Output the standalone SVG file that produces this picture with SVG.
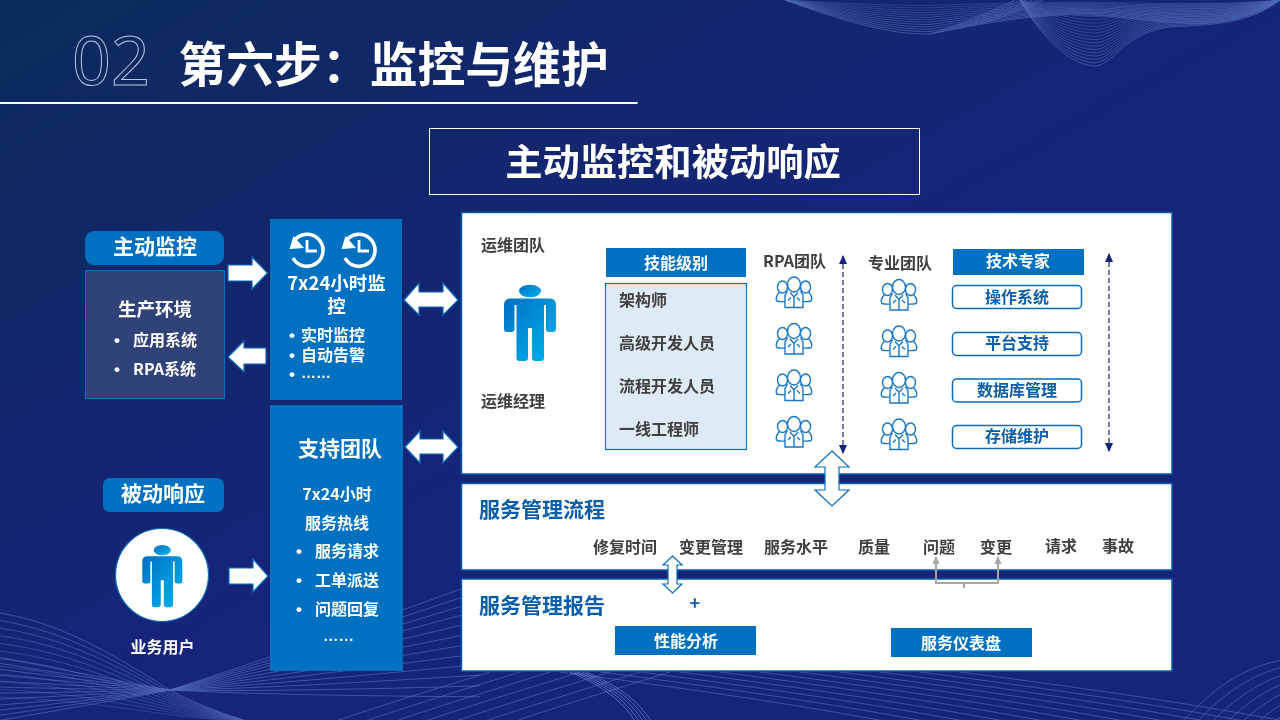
<svg xmlns="http://www.w3.org/2000/svg" width="1280" height="720" viewBox="0 0 1280 720">
<style>
text{font-family:"Noto Sans CJK SC","Noto Sans",sans-serif;font-weight:700}
.w{fill:#fff}.g{fill:#404040}.b{fill:#0a5da8}
.f16{font-size:16px}.f21{font-size:21px}.m{text-anchor:middle}
text.bul{font-family:"Liberation Sans",sans-serif;font-size:17px;fill:#fff;text-anchor:middle}
.box{fill:#0070c0}
.panel{fill:#fff;stroke:#0a5da8;stroke-width:1.5}
.arrow{fill:#fff;stroke:#0a6cb8;stroke-width:1.2}
.tag{fill:#fff;stroke:#0a6cb8;stroke-width:1.5}
.wave{fill:none;stroke:#7d9fe2;stroke-width:.7;opacity:.55}
.wave2{fill:none;stroke:#8aaae8;stroke-width:.7;opacity:.75}
.dash{fill:none;stroke:#16237e;stroke-width:1.2;stroke-dasharray:5 3}
.ico{fill:none;stroke:#1a78c6;stroke-width:1.4}
</style>
<defs>
<linearGradient id="bg" x1="0" y1="0" x2="0.55" y2="0.55"><stop offset="0" stop-color="#0b2b5b"/><stop offset=".6" stop-color="#13266f"/><stop offset="1" stop-color="#16247c"/></linearGradient>
<linearGradient id="man" x1="0" y1="0" x2="1" y2="1"><stop offset="0" stop-color="#0070c0"/><stop offset="1" stop-color="#00b4f2"/></linearGradient>
<marker id="ah" viewBox="0 0 8 8" refX="7" refY="4" markerWidth="8" markerHeight="8" orient="auto-start-reverse"><path d="M0,0.5L8,4L0,7.5Z" fill="#16237e"/></marker>
<marker id="gh" viewBox="0 0 8 8" refX="7" refY="4" markerWidth="8" markerHeight="8" markerUnits="userSpaceOnUse" orient="auto"><path d="M0,0.5L8,4L0,7.5Z" fill="#a6a6a6"/></marker>
<g id="person"><ellipse cx="530" cy="291" rx="11" ry="6.3" fill="url(#man)"/><path d="M510,298.5H550Q556,299 556,305V329Q556,332 553,332H549Q546,332 546,329V305H544V358Q544,361 541,361H535Q532,361 532,358V328H528V358Q528,361 525,361H519.500Q516.500,361 516.500,358V305H514.500V329Q514.500,332 511.500,332H507Q504,332 504,329V305Q504,299 510,298.500Z" fill="url(#man)"/></g>
<g id="team" class="ico"><ellipse cx="18" cy="8" rx="6.500" ry="7.500"/><ellipse cx="6.500" cy="10.500" rx="5" ry="6"/><ellipse cx="29.500" cy="10.500" rx="5" ry="6"/><path d="M3.500,15.500C0,19 -.5,23 1,24.500Q4,25.500 9,25M32.500,15.500C36,19 36.500,23 35,24.500Q32,25.500 27,25M11.500,14.500L9,19V31H27V19L24.500,14.500M14,16L18,20.500L22,16M18,20.500V31M15,21L12,24M21,21L24,24"/></g>
<g id="clock"><path d="M294,241A16,16 0 1 1 293,258" fill="none" stroke="#fff" stroke-width="3.600"/><path d="M289.500,249L293.500,236L304,248Z" fill="#fff"/><path d="M307,240V251H317" fill="none" stroke="#fff" stroke-width="2.800"/></g>
<path id="wA" d="M785,0C840,20 890,35 930,34C990,22 1040,13 1090,15C1130,17 1170,25 1210,23C1240,20 1260,10 1280,0"/>
<path id="wA2" d="M930,34C960,25 990,12 1015,0"/>
<path id="wB" d="M1020,0C1040,35 1070,66 1095,66C1112,66 1125,32 1170,27C1210,25 1250,24 1280,0"/>
<path id="wC" d="M0,613C70,625 120,660 170,690C200,706 230,716 250,722"/>
<path id="wD" d="M0,705C60,700 120,695 170,690C250,672 370,640 480,610"/>
<path id="wE" d="M460,730C530,705 590,688 640,672"/>
<path id="wF" d="M640,672C780,690 920,710 1060,740"/>
<path id="wG" d="M570,672C600,685 625,700 640,730"/>
<path id="wH" d="M1180,725C1210,690 1245,665 1285,660"/>
</defs>
<rect id="background" width="1280" height="720" fill="url(#bg)"/>
<g id="waves">
<g class="wave"><use href="#wA"/><use href="#wA" transform="scale(1,.93)"/><use href="#wA" transform="scale(1,.86)"/><use href="#wA" transform="scale(1,.79)"/><use href="#wA" transform="scale(1,.72)"/><use href="#wA" transform="scale(1,.65)"/><use href="#wA" transform="scale(1,.58)"/><use href="#wA" transform="scale(1,.51)"/><use href="#wA" transform="scale(1,.44)"/><use href="#wA" transform="scale(1,.37)"/><use href="#wA" transform="scale(1,.3)"/><use href="#wA" transform="scale(1,.23)"/><use href="#wA" transform="scale(1,.16)"/>
<use href="#wA2"/><use href="#wA2" transform="translate(10,-2)"/><use href="#wA2" transform="translate(20,-4)"/><use href="#wA2" transform="translate(30,-6)"/><use href="#wA2" transform="translate(40,-8)"/><use href="#wA2" transform="translate(50,-10)"/>
<use href="#wB"/><use href="#wB" transform="scale(1,.95)"/><use href="#wB" transform="scale(1,.9)"/><use href="#wB" transform="scale(1,.85)"/><use href="#wB" transform="scale(1,.8)"/><use href="#wB" transform="scale(1,.75)"/><use href="#wB" transform="scale(1,.7)"/><use href="#wB" transform="scale(1,.65)"/><use href="#wB" transform="scale(1,.6)"/><use href="#wB" transform="scale(1,.55)"/><use href="#wB" transform="scale(1,.5)"/><use href="#wB" transform="scale(1,.45)"/><use href="#wB" transform="scale(1,.4)"/><use href="#wB" transform="scale(1,.35)"/><use href="#wB" transform="scale(1,.3)"/><use href="#wB" transform="scale(1,.25)"/><use href="#wB" transform="scale(1,.2)"/><use href="#wB" transform="scale(1,.15)"/>
<use href="#wC"/><use href="#wC" transform="matrix(1 0 0 .93 0 50.500)"/><use href="#wC" transform="matrix(1 0 0 .86 0 101)"/><use href="#wC" transform="matrix(1 0 0 .79 0 151.600)"/><use href="#wC" transform="matrix(1 0 0 .72 0 202.200)"/><use href="#wC" transform="matrix(1 0 0 .65 0 252.700)"/><use href="#wC" transform="matrix(1 0 0 .58 0 303.200)"/><use href="#wC" transform="matrix(1 0 0 .51 0 353.800)"/><use href="#wC" transform="matrix(1 0 0 .44 0 404.300)"/><use href="#wC" transform="matrix(1 0 0 .37 0 454.900)"/><use href="#wC" transform="matrix(1 0 0 .3 0 505.400)"/><use href="#wC" transform="matrix(1 0 0 .23 0 556)"/>
<use href="#wD"/><use href="#wD" transform="matrix(1 .035 0 1 0 -5.950)"/><use href="#wD" transform="matrix(1 .07 0 1 0 -11.900)"/><use href="#wD" transform="matrix(1 .105 0 1 0 -17.850)"/><use href="#wD" transform="matrix(1 .14 0 1 0 -23.800)"/><use href="#wD" transform="matrix(1 .175 0 1 0 -29.750)"/><use href="#wD" transform="matrix(1 .21 0 1 0 -35.700)"/><use href="#wD" transform="matrix(1 .245 0 1 0 -41.650)"/><use href="#wD" transform="matrix(1 .28 0 1 0 -47.600)"/>
<use href="#wD" transform="matrix(1 -.03 0 1 0 5.100)"/><use href="#wD" transform="matrix(1 -.06 0 1 0 10.200)"/><use href="#wD" transform="matrix(1 -.09 0 1 0 15.300)"/>
<use href="#wE"/><use href="#wE" transform="translate(30,0)"/><use href="#wE" transform="translate(-30,0)"/><use href="#wE" transform="translate(-60,0)"/><use href="#wE" transform="translate(-90,0)"/><use href="#wE" transform="translate(-120,0)"/><use href="#wE" transform="translate(-150,0)"/>
<use href="#wF"/><use href="#wF" transform="translate(40,0)"/><use href="#wF" transform="translate(80,0)"/><use href="#wF" transform="translate(120,0)"/><use href="#wF" transform="translate(160,0)"/><use href="#wF" transform="translate(200,0)"/><use href="#wF" transform="translate(240,0)"/><use href="#wF" transform="translate(280,0)"/><use href="#wF" transform="translate(320,0)"/><use href="#wF" transform="translate(-40,0)"/><use href="#wF" transform="translate(-80,0)"/>
<use href="#wH"/><use href="#wH" transform="translate(10,5)"/><use href="#wH" transform="translate(20,10)"/><use href="#wH" transform="translate(30,15)"/><use href="#wH" transform="translate(40,20)"/><use href="#wH" transform="translate(50,25)"/><use href="#wH" transform="translate(60,30)"/><use href="#wH" transform="translate(70,35)"/></g>
<g class="wave2"><use href="#wG"/><use href="#wG" transform="translate(4,0)"/><use href="#wG" transform="translate(8,0)"/><use href="#wG" transform="translate(12,0)"/><use href="#wG" transform="translate(16,0)"/></g>
</g>
<g id="header">
<text x="72" y="85" font-size="68" style="font-family:'Noto Sans',sans-serif;font-weight:400;fill:none;stroke:#b4c8e2;stroke-width:1">02</text>
<text class="w" x="178.500" y="81.500" font-size="47.800">第六步：监控与维护</text>
<rect x="0" y="102" width="637.500" height="2" fill="#fff"/>
</g>
<g id="subtitle"><rect x="429.500" y="128.500" width="490" height="66" fill="none" stroke="#fff"/><text class="w m" x="673" y="175.500" font-size="37.300">主动监控和被动响应</text></g>
<g id="node-active"><rect class="box" x="85" y="231" width="139" height="34" rx="9"/><text class="w m f21" x="155" y="254">主动监控</text></g>
<g id="node-env"><rect x="85.500" y="270.500" width="139" height="128" fill="#2f4379" stroke="#0070c0"/><text class="w m" font-size="18.500" x="155" y="316">生产环境</text><text class="bul" x="117" y="346">•</text><text class="w f16" x="133" y="346">应用系统</text><text class="bul" x="117" y="375">•</text><text class="w f16" x="133" y="375">RPA系统</text></g>
<g id="node-monitor"><rect class="box" x="270" y="219" width="132" height="181"/><use href="#clock"/><use href="#clock" x="52"/><text class="w m" font-size="18.500" x="336.500" y="290">7x24小时监</text><text class="w m" font-size="18.500" x="336.500" y="313">控</text><text class="bul" x="292" y="341">•</text><text class="w f16" x="301" y="341">实时监控</text><text class="bul" x="292" y="361">•</text><text class="w f16" x="301" y="361">自动告警</text><text class="bul" x="292" y="380">•</text><text class="w" x="301" y="378" font-size="15" style="font-family:'Liberation Sans',sans-serif">……</text></g>
<g id="node-passive"><rect class="box" x="103" y="478" width="121" height="34" rx="7"/><text class="w m f21" x="163" y="501">被动响应</text></g>
<g id="node-user"><circle cx="162" cy="575" r="46.500" fill="#fff" stroke="#0a6cb8" stroke-width="1.200"/><use href="#person" transform="matrix(.77 0 0 .815 -245.800 313)"/><text class="w m f16" x="162.500" y="653">业务用户</text></g>
<g id="node-support"><rect class="box" x="270" y="405" width="133" height="266"/><text class="w m f21" x="340" y="456">支持团队</text><text class="w m f16" x="337" y="500">7x24小时</text><text class="w m f16" x="337" y="528.500">服务热线</text><text class="bul" x="299" y="557">•</text><text class="w f16" x="315" y="557">服务请求</text><text class="bul" x="299" y="586">•</text><text class="w f16" x="315" y="586">工单派送</text><text class="bul" x="299" y="615">•</text><text class="w f16" x="315" y="615">问题回复</text><text class="w" x="323" y="641" font-size="15.500" style="font-family:'Liberation Sans',sans-serif">……</text></g>
<g id="panel-team"><rect class="panel" x="461.500" y="212.500" width="710.500" height="261.500"/>
<text class="g f16" x="481" y="251">运维团队</text><use href="#person"/><text class="g f16" x="481" y="407">运维经理</text>
<rect class="box" x="606" y="248" width="140" height="29"/><text class="w m f16" x="676" y="269">技能级别</text>
<rect x="605.500" y="283.500" width="141" height="166" fill="#deebf7" stroke="#0070c0" stroke-width="1.200"/>
<text class="g f16" x="619" y="306">架构师</text><text class="g f16" x="619" y="349">高级开发人员</text><text class="g f16" x="619" y="392">流程开发人员</text><text class="g f16" x="619" y="435">一线工程师</text>
<text class="g f16" x="763" y="267">RPA团队</text>
<use href="#team" x="776" y="276.500"/><use href="#team" x="776" y="323"/><use href="#team" x="776" y="369.500"/><use href="#team" x="776" y="416"/>
<text class="g f16" x="868" y="269">专业团队</text>
<use href="#team" x="881" y="279"/><use href="#team" x="881" y="325.500"/><use href="#team" x="881" y="372"/><use href="#team" x="881" y="418.500"/>
<rect class="box" x="953" y="249" width="131" height="26"/><text class="w m f16" x="1018" y="267">技术专家</text>
<rect class="tag" x="952.500" y="285.500" width="129" height="23" rx="4"/><text class="b m f16" x="1017" y="303">操作系统</text>
<rect class="tag" x="952.500" y="332.500" width="129" height="23" rx="4"/><text class="b m f16" x="1017" y="349">平台支持</text>
<rect class="tag" x="952.500" y="379" width="129" height="23" rx="4"/><text class="b m f16" x="1017" y="396">数据库管理</text>
<rect class="tag" x="952.500" y="425.500" width="129" height="23" rx="4"/><text class="b m f16" x="1017" y="442">存储维护</text></g>
<g id="panel-process"><rect class="panel" x="461.500" y="483.500" width="710.500" height="86.500"/>
<text class="b f21" x="479" y="517">服务管理流程</text>
<text class="g f16" x="593" y="553">修复时间</text><text class="g f16" x="679" y="553">变更管理</text><text class="g f16" x="764" y="553">服务水平</text><text class="g f16" x="858" y="552.500">质量</text><text class="g f16" x="923" y="552.500">问题</text><text class="g f16" x="980" y="552.500">变更</text><text class="g f16" x="1045" y="552">请求</text><text class="g f16" x="1102" y="552">事故</text></g>
<g id="panel-report"><rect class="panel" x="461.500" y="579" width="710.500" height="92"/>
<text class="b f21" x="479" y="612.500">服务管理报告</text>
<text class="b" font-size="18" x="689.500" y="610">+</text>
<rect class="box" x="615" y="626" width="141" height="29"/><text class="w m f16" x="686" y="647">性能分析</text>
<rect class="box" x="891" y="628" width="141" height="29"/><text class="w m f16" x="961" y="649">服务仪表盘</text></g>
<g id="connectors">
<path class="arrow" d="M228,265H252V257L267.500,273L252,289V281H228Z"/>
<path class="arrow" d="M266,348H244V341L228,357L244,372V364H266Z"/>
<path class="arrow" d="M404,300L419,283V292H443V283L458,300L443,315V307H419V315Z"/>
<path class="arrow" d="M405,447L420,431V439H443V431L458,447L443,463V454H420V463Z"/>
<path class="arrow" d="M229,568H253V559L268,576L253,592V584H229Z"/>
<path class="arrow" d="M832,451L849,467H839V490H849L832,506L815,490H825V467H815Z"/>
<path class="arrow" d="M672.500,556L682,565H677V584H682L672.500,593L663,584H668V565H663Z"/>
<path class="dash" d="M843,256V453" marker-start="url(#ah)" marker-end="url(#ah)"/>
<path class="dash" d="M1109,254V451" marker-start="url(#ah)" marker-end="url(#ah)"/>
<path d="M936,583V557" fill="none" stroke="#a6a6a6" stroke-width="2" marker-end="url(#gh)"/>
<path d="M998,583V557" fill="none" stroke="#a6a6a6" stroke-width="2" marker-end="url(#gh)"/>
<path d="M935,583H999M964,583V588" fill="none" stroke="#a6a6a6" stroke-width="2"/>
</g>
</svg>
